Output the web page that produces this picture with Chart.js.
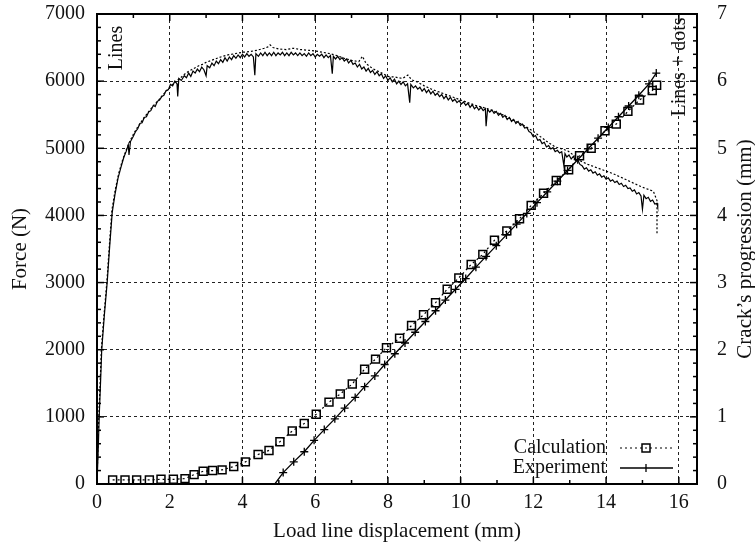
<!DOCTYPE html>
<html>
<head>
<meta charset="utf-8">
<title>Force and crack progression</title>
<script src="https://cdn.jsdelivr.net/npm/chart.js@4/dist/chart.umd.min.js"></script>
<style>
  html, body { margin: 0; padding: 0; background: #fff; }
  #wrap { width: 755px; height: 544px; }
</style>
</head>
<body>
<div id="wrap"><canvas id="forceChart" width="755" height="544"></canvas></div>
<script>
/* Force / crack progression vs load line displacement (gnuplot style) */

var SERIF = '"Liberation Serif", "DejaVu Serif", serif';

/* ─── data: force, experiment (N) ─── */
var forceExpX = [0.00, 0.03, 0.06, 0.10, 0.13, 0.20, 0.28, 0.35, 0.42, 0.50, 0.58, 0.66, 0.74, 0.80, 0.86, 0.88, 0.92,
  1.00, 1.06, 1.12, 1.18, 1.24, 1.30, 1.36, 1.42, 1.48, 1.55, 1.60, 1.66, 1.72, 1.78, 1.84, 1.90, 1.96,
  2.02, 2.08, 2.14, 2.20, 2.22, 2.25, 2.32, 2.40, 2.46, 2.52, 2.58, 2.64, 2.70, 2.76, 2.82, 2.88, 2.94,
  3.00, 3.03, 3.10, 3.16, 3.22, 3.28, 3.34, 3.40, 3.46, 3.52, 3.58, 3.64, 3.70, 3.76, 3.82, 3.88, 3.94,
  4.00, 4.06, 4.12, 4.18, 4.24, 4.30, 4.34, 4.37, 4.44, 4.50, 4.56, 4.62, 4.68, 4.74, 4.80, 4.86, 4.92, 4.98,
  5.04, 5.10, 5.16, 5.22, 5.28, 5.34, 5.40, 5.46, 5.52, 5.58, 5.64, 5.70, 5.76, 5.82, 5.88, 5.94,
  6.00, 6.06, 6.12, 6.18, 6.24, 6.30, 6.36, 6.42, 6.47, 6.50, 6.56, 6.62, 6.68, 6.74, 6.80, 6.86, 6.92, 6.98,
  7.04, 7.10, 7.16, 7.22, 7.28, 7.34, 7.40, 7.46, 7.52, 7.58, 7.64, 7.70, 7.76, 7.82, 7.88, 7.94,
  8.00, 8.06, 8.12, 8.18, 8.24, 8.30, 8.36, 8.42, 8.48, 8.54, 8.60, 8.63, 8.70, 8.76, 8.82, 8.88, 8.94,
  9.00, 9.06, 9.12, 9.18, 9.24, 9.30, 9.36, 9.42, 9.48, 9.54, 9.60, 9.66, 9.72, 9.78, 9.84, 9.90, 9.96,
  10.02, 10.08, 10.14, 10.20, 10.26, 10.32, 10.38, 10.44, 10.50, 10.56, 10.62, 10.68, 10.70, 10.74, 10.80, 10.86, 10.92, 10.98,
  11.04, 11.10, 11.16, 11.22, 11.28, 11.34, 11.40, 11.46, 11.52, 11.58, 11.64, 11.70, 11.76, 11.82, 11.88, 11.94,
  12.00, 12.06, 12.12, 12.18, 12.24, 12.30, 12.36, 12.42, 12.48, 12.54, 12.60, 12.66, 12.72, 12.78, 12.84, 12.87, 12.92, 12.98,
  13.04, 13.10, 13.16, 13.22, 13.28, 13.34, 13.40, 13.46, 13.52, 13.58, 13.64, 13.70, 13.76, 13.82, 13.88, 13.94,
  14.00, 14.06, 14.12, 14.18, 14.24, 14.30, 14.36, 14.42, 14.48, 14.54, 14.60, 14.66, 14.72, 14.78, 14.84, 14.90, 14.96,
  15.00, 15.04, 15.10, 15.16, 15.22, 15.28, 15.34, 15.40, 15.42];
var forceExp = [0, 450, 1000, 1550, 2000, 2500, 3000, 3550, 4050, 4330, 4560, 4720, 4870, 4950, 5050, 4900, 5100,
  5180, 5250, 5290, 5370, 5380, 5460, 5470, 5540, 5560, 5640, 5620, 5700, 5720, 5770, 5790, 5860, 5870,
  5950, 5930, 6000, 5960, 5770, 6040, 6010, 6080, 6050, 6120, 6070, 6150, 6120, 6180, 6140, 6210, 6170,
  6080, 6230, 6200, 6270, 6230, 6300, 6260, 6320, 6280, 6350, 6300, 6360, 6320, 6380, 6340, 6390, 6350,
  6400, 6360, 6410, 6370, 6400, 6360, 6090, 6410, 6370, 6420, 6380, 6430, 6380, 6420, 6380, 6430, 6380, 6420,
  6390, 6430, 6380, 6420, 6380, 6430, 6390, 6420, 6380, 6420, 6380, 6410, 6370, 6420, 6380, 6410,
  6360, 6400, 6370, 6400, 6350, 6390, 6350, 6380, 6110, 6370, 6330, 6370, 6320, 6350, 6300, 6330, 6270, 6310,
  6250, 6270, 6210, 6250, 6180, 6210, 6150, 6190, 6130, 6160, 6100, 6140, 6080, 6110, 6040, 6080,
  6010, 6050, 5990, 6030, 5960, 6000, 5950, 5990, 5930, 5960, 5680, 5950, 5900, 5930, 5880, 5910, 5850,
  5890, 5830, 5870, 5810, 5850, 5790, 5820, 5770, 5800, 5740, 5780, 5720, 5760, 5700, 5730, 5680, 5710,
  5660, 5690, 5640, 5670, 5610, 5650, 5590, 5620, 5570, 5610, 5560, 5590, 5330, 5580, 5540, 5570, 5520, 5550,
  5490, 5520, 5460, 5490, 5430, 5460, 5400, 5430, 5370, 5400, 5340, 5360, 5300, 5310, 5250, 5230,
  5170, 5190, 5120, 5130, 5070, 5090, 5020, 5040, 4990, 5010, 4950, 4970, 4930, 4950, 4740, 4920, 4870, 4900,
  4840, 4880, 4820, 4830, 4760, 4740, 4690, 4710, 4660, 4680, 4630, 4650, 4600, 4620, 4570, 4590,
  4540, 4560, 4510, 4530, 4490, 4510, 4460, 4480, 4430, 4450, 4400, 4410, 4360, 4380, 4320, 4340, 4290,
  4090, 4300, 4250, 4270, 4210, 4230, 4170, 4180, 4130];

/* ─── data: force, calculation (N) ─── */
var forceCalcX = [0.00, 0.02, 0.05, 0.09, 0.12, 0.19, 0.27, 0.34, 0.41, 0.50, 0.60, 0.70, 0.80, 0.90,
  1.00, 1.10, 1.20, 1.30, 1.40, 1.50, 1.60, 1.70, 1.80, 1.90, 2.00, 2.10, 2.20, 2.30, 2.40, 2.50, 2.60, 2.70, 2.80, 2.90,
  3.00, 3.20, 3.40, 3.60, 3.80, 4.00, 4.20, 4.40, 4.60, 4.70, 4.76, 4.84, 5.00, 5.20, 5.40, 5.60, 5.80,
  6.00, 6.20, 6.40, 6.60, 6.80, 7.00, 7.20, 7.30, 7.40, 7.60, 7.80, 8.00, 8.20, 8.40, 8.55, 8.65, 8.80,
  9.00, 9.20, 9.40, 9.60, 9.80, 10.00, 10.20, 10.40, 10.60, 10.80, 11.00, 11.20, 11.40, 11.60, 11.80,
  12.00, 12.20, 12.40, 12.60, 12.80, 12.95, 13.10, 13.30, 13.50, 13.70, 13.90, 14.10, 14.20, 14.40, 14.60, 14.80,
  15.00, 15.20, 15.30, 15.40, 15.40];
var forceCalc = [0, 450, 1000, 1550, 2000, 2500, 3000, 3550, 4080, 4380, 4630, 4820, 4970, 5100,
  5210, 5300, 5380, 5460, 5530, 5600, 5660, 5720, 5790, 5850, 5900, 5960, 6010, 6050, 6100, 6140, 6170, 6200, 6230, 6250,
  6280, 6320, 6360, 6390, 6410, 6430, 6440, 6460, 6490, 6510, 6540, 6500, 6480, 6470, 6490, 6470, 6460,
  6450, 6430, 6410, 6380, 6340, 6310, 6290, 6370, 6260, 6180, 6130, 6070, 6060, 6040, 6090, 6020, 5990,
  5930, 5880, 5840, 5800, 5760, 5720, 5680, 5640, 5610, 5580, 5530, 5490, 5430, 5380, 5320,
  5250, 5170, 5090, 5020, 4990, 4960, 4900, 4810, 4760, 4720, 4680, 4640, 4620, 4570, 4520, 4470,
  4420, 4380, 4360, 4220, 3716];

/* ─── data: crack progression (mm) ─── */
var crackCalcX = [0.43, 0.77, 1.09, 1.44, 1.76, 2.10, 2.42, 2.67, 2.92, 3.18, 3.44, 3.76, 4.08, 4.43, 4.73,
  5.03, 5.37, 5.70, 6.03, 6.38, 6.69, 7.02, 7.36, 7.66, 7.96, 8.32, 8.65, 8.98, 9.31, 9.63, 9.95,
  10.29, 10.61, 10.93, 11.27, 11.62, 11.94, 12.28, 12.63, 12.97, 13.27, 13.59, 13.97, 14.28, 14.60, 14.92, 15.27, 15.39];
var crackCalc = [0.06, 0.06, 0.06, 0.06, 0.07, 0.07, 0.08, 0.14, 0.19, 0.20, 0.21, 0.26, 0.33, 0.44, 0.50,
  0.63, 0.79, 0.90, 1.04, 1.22, 1.34, 1.49, 1.71, 1.86, 2.03, 2.17, 2.36, 2.52, 2.70, 2.90, 3.07,
  3.27, 3.42, 3.63, 3.77, 3.95, 4.15, 4.33, 4.52, 4.68, 4.89, 5.00, 5.26, 5.36, 5.55, 5.72, 5.86, 5.94];

var crackExpX = [4.89, 5.12, 5.41, 5.70, 5.97, 6.25, 6.54, 6.81, 7.10, 7.36, 7.64, 7.91, 8.19, 8.47, 8.75,
  9.03, 9.31, 9.58, 9.86, 10.14, 10.42, 10.70, 10.98, 11.26, 11.54, 11.82, 12.10, 12.38, 12.66, 12.94,
  13.22, 13.50, 13.78, 14.06, 14.34, 14.62, 14.90, 15.18, 15.38];
var crackExp = [0, 0.17, 0.33, 0.48, 0.65, 0.81, 0.97, 1.13, 1.29, 1.45, 1.61, 1.78, 1.94, 2.10, 2.26,
  2.42, 2.58, 2.74, 2.90, 3.06, 3.23, 3.39, 3.55, 3.71, 3.87, 4.03, 4.19, 4.35, 4.51, 4.67,
  4.83, 4.99, 5.15, 5.31, 5.47, 5.63, 5.79, 5.96, 6.12];

var legendNames = ['Calculation', 'Experiment'];

function toPoints(xs, ys) {
  return xs.map(function(x, i) { return { x: x, y: ys[i] }; });
}

function plainTick(v) { return String(v); }

// fixed axis box width; drop the label overflow padding so the plot top stays put
function fixWidth(w) {
  return function(s) {
    s.width = w;
    s.paddingTop = 0;
    s.paddingBottom = 0;
  };
}

/* ─── gnuplot-like frame, inward ticks, legend and side texts ─── */

var gnuFrame = {
  id: 'gnuFrame',
  afterDraw: function(chart) {
    var ctx = chart.ctx, a = chart.chartArea;
    var sx = chart.scales.x, sy = chart.scales.y, sy2 = chart.scales.y2;
    var v, p, len;

    function seg(x1, y1, x2, y2) {
      ctx.beginPath(); ctx.moveTo(x1, y1); ctx.lineTo(x2, y2); ctx.stroke();
    }

    ctx.save();
    ctx.strokeStyle = '#000';
    ctx.setLineDash([]);
    ctx.lineWidth = 2;
    seg(a.left - 1, a.top, a.right + 1, a.top);

    ctx.lineWidth = 1.5;
    for (v = 0; v <= 16; v++) {
      p = sx.getPixelForValue(v);
      len = v % 2 === 0 ? 7 : 4;
      seg(p, a.bottom, p, a.bottom - len);
      seg(p, a.top, p, a.top + len);
    }
    for (v = 0; v <= 35; v++) {
      p = sy.getPixelForValue(v * 200);
      len = v % 5 === 0 ? 7 : 4;
      seg(a.left, p, a.left + len, p);
      p = sy2.getPixelForValue(v * 0.2);
      seg(a.right, p, a.right - len, p);
    }

    ctx.fillStyle = '#111';
    ctx.font = '20px ' + SERIF;
    ctx.textBaseline = 'middle';

    /* legend */
    ctx.textAlign = 'right';
    ctx.fillText(legendNames[0], 606, 448);
    ctx.fillText(legendNames[1], 606, 468);
    ctx.lineWidth = 1.2;
    ctx.setLineDash([2, 3]);
    seg(620, 448, 673, 448);
    ctx.setLineDash([]);
    ctx.lineWidth = 1.5;
    ctx.strokeRect(642, 444, 8, 8);
    ctx.lineWidth = 1.3;
    seg(620, 468, 673, 468);
    seg(646, 464, 646, 472);

    /* rotated texts */
    function vtext(txt, x, y, font) {
      ctx.save();
      ctx.translate(x, y);
      ctx.rotate(-Math.PI / 2);
      ctx.font = font;
      ctx.textAlign = 'center';
      ctx.fillText(txt, 0, 0);
      ctx.restore();
    }
    vtext('Lines', 117, 48, '20px ' + SERIF);
    vtext('Lines + dots', 680, 67, '20px ' + SERIF);
    vtext('Crack\u2019s progression (mm)', 745, (a.top + a.bottom) / 2, '21px ' + SERIF);
    ctx.restore();
  }
};

/* ─── chart ─── */

var tickFont = { family: SERIF, size: 20 };
var titleFont = { family: SERIF, size: 21 };
var gridDash = { display: true, color: '#000', width: 2, dash: [3, 3] };

var chart = new Chart(document.getElementById('forceChart'), {
  type: 'scatter',
  data: {
    datasets: [{
      label: 'Force experiment',
      data: toPoints(forceExpX, forceExp),
      showLine: true,
      yAxisID: 'y',
      borderColor: '#000',
      borderWidth: 1.2,
      pointRadius: 0,
      fill: false
    }, {
      label: 'Force calculation',
      data: toPoints(forceCalcX, forceCalc),
      showLine: true,
      yAxisID: 'y',
      borderColor: '#000',
      borderWidth: 1.2,
      borderDash: [2, 2],
      pointRadius: 0,
      fill: false
    }, {
      label: legendNames[0],
      data: toPoints(crackCalcX, crackCalc),
      showLine: true,
      yAxisID: 'y2',
      borderColor: '#000',
      borderWidth: 1.2,
      borderDash: [2, 3],
      pointStyle: 'rect',
      pointRadius: 5.6,
      pointBorderWidth: 1.5,
      pointBorderColor: '#000',
      pointBackgroundColor: 'rgba(0,0,0,0)',
      fill: false
    }, {
      label: legendNames[1],
      data: toPoints(crackExpX, crackExp),
      showLine: true,
      yAxisID: 'y2',
      borderColor: '#000',
      borderWidth: 1.3,
      pointStyle: 'cross',
      pointRadius: function(c) { return c.dataIndex === 0 ? 0 : 4; },
      pointBorderWidth: 1.3,
      pointBorderColor: '#000',
      fill: false
    }]
  },
  options: {
    responsive: false,
    animation: false,
    devicePixelRatio: 1,
    layout: { padding: { top: 14, right: 0, bottom: 0, left: 0 } },
    plugins: { legend: { display: false }, tooltip: { enabled: false } },
    scales: {
      x: {
        type: 'linear',
        min: 0, max: 16.5,
        afterFit: function(s) { s.height = 60; },
        grid: { color: '#222', lineWidth: 1, drawTicks: false },
        border: gridDash,
        ticks: { stepSize: 2, includeBounds: false, padding: 7, color: '#111', font: tickFont, maxRotation: 0, callback: plainTick },
        title: { display: true, text: 'Load line displacement (mm)', color: '#111', font: titleFont, padding: 0 }
      },
      y: {
        position: 'left',
        min: 0, max: 7000,
        afterFit: fixWidth(97),
        grid: { color: '#222', lineWidth: 1, drawTicks: false },
        border: gridDash,
        ticks: { stepSize: 1000, padding: 12, color: '#111', font: tickFont, callback: plainTick },
        title: { display: true, text: 'Force (N)', color: '#111', font: titleFont, padding: { top: 8, bottom: 0 } }
      },
      y2: {
        position: 'right',
        min: 0, max: 7,
        afterFit: fixWidth(58),
        grid: { drawOnChartArea: false, drawTicks: false },
        border: { display: true, color: '#000', width: 2 },
        ticks: { stepSize: 1, padding: 20, color: '#111', font: tickFont, callback: plainTick },
        title: { display: false }
      }
    }
  },
  plugins: [gnuFrame]
});
</script>
</body>
</html>
